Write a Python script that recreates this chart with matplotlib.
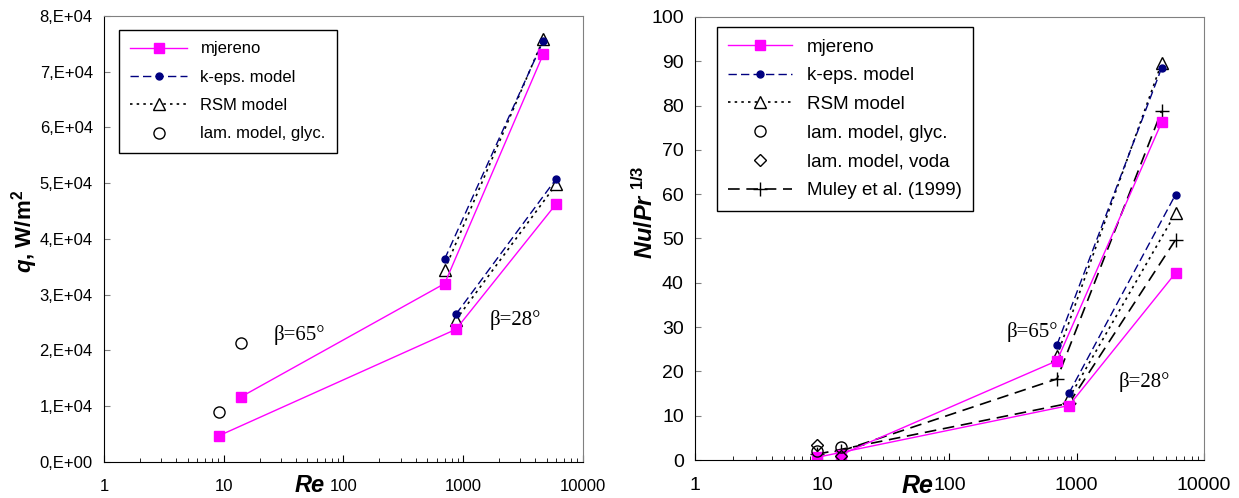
import matplotlib
matplotlib.use("Agg")
import matplotlib.pyplot as plt
from matplotlib.ticker import FixedLocator, FuncFormatter, LogLocator, NullFormatter

plt.rcParams["font.family"] = ["Liberation Sans", "DejaVu Sans"]
plt.rcParams["mathtext.fontset"] = "custom"
plt.rcParams["mathtext.rm"] = "Liberation Sans:bold"
plt.rcParams["mathtext.it"] = "Liberation Sans:bold:italic"
plt.rcParams["mathtext.bf"] = "Liberation Sans:bold"

# Reynolds numbers (beta = 65 deg / beta = 28 deg)
re_65 = [14, 700, 4650]
re_28 = [9.1, 870, 5980]
re_65_cfd = [700, 4650]
re_28_cfd = [870, 5980]
re_lam = [9.1, 14]

# heat flux q, W/m2
q_meas_65 = [1.17e4, 3.20e4, 7.31e4]
q_meas_28 = [0.47e4, 2.38e4, 4.63e4]
q_keps_65 = [3.64e4, 7.55e4]
q_keps_28 = [2.65e4, 5.08e4]
q_rsm_65 = [3.45e4, 7.58e4]
q_rsm_28 = [2.55e4, 4.98e4]
q_lam_glyc = [0.90e4, 2.13e4]

# Nu / Pr^(1/3)
nu_meas_65 = [1.2, 22.4, 76.2]
nu_meas_28 = [0.6, 12.3, 42.2]
nu_keps_65 = [26.0, 88.5]
nu_keps_28 = [15.1, 59.9]
nu_rsm_65 = [23.5, 89.6]
nu_rsm_28 = [14.0, 55.7]
nu_muley_65 = [2.0, 18.3, 78.8]
nu_muley_28 = [1.3, 12.8, 49.7]
nu_lam_glyc = [2.0, 3.0]
nu_lam_voda = [3.4, 1.0]

x_ticks = [1, 10, 100, 1000, 10000]

MAG = "#FF00FF"
NAVY = "#000080"


def sci_comma(v, pos):
    if v == 0:
        return "0,E+00"
    exp = 0
    m = v
    while abs(m) >= 10:
        m /= 10
        exp += 1
    return f"{m:.0f},E+{exp:02d}"


def style_axes(ax):
    ax.set_xscale("log")
    ax.set_xlim(1, 10000)
    ax.xaxis.set_major_locator(FixedLocator(x_ticks))
    ax.xaxis.set_major_formatter(FuncFormatter(lambda v, p: f"{v:.0f}"))
    ax.xaxis.set_minor_locator(LogLocator(base=10, subs=range(2, 10)))
    ax.xaxis.set_minor_formatter(NullFormatter())
    ax.tick_params(axis="x", which="major", direction="in", length=5, pad=12, labelsize=12)
    ax.tick_params(axis="x", which="minor", direction="in", length=3)
    ax.tick_params(axis="y", direction="in", length=4, color="#808080", pad=8, labelsize=12)
    for s in ("top", "right"):
        ax.spines[s].set_color("#808080")
    for s in ("left", "bottom"):
        ax.spines[s].set_color("black")


def line_kw(kind):
    if kind == "meas":
        return dict(color=MAG, lw=1.0, marker="s", ms=7, mfc=MAG, mec=MAG)
    if kind == "keps":
        return dict(color=NAVY, lw=1.0, ls=(0, (6, 3)), marker="o", ms=5, mfc=NAVY, mec=NAVY)
    if kind == "rsm":
        return dict(color="black", lw=1.2, ls=(0, (1.5, 2.5)), marker="^", ms=9,
                    mfc="white", mec="black", mew=1.0)
    if kind == "muley":
        return dict(color="black", lw=1.2, ls=(0, (7, 4)), marker="+", ms=10, mew=1.0)


fig = plt.figure(figsize=(12.39, 4.98), dpi=100)
ax1 = fig.add_axes([0.0839, 0.0723, 0.3866, 0.8956])
ax2 = fig.add_axes([0.5609, 0.0763, 0.4108, 0.8896])

# ---- left panel: q ----
ax1.plot(re_65_cfd, q_rsm_65, label="RSM model", **line_kw("rsm"))
ax1.plot(re_28_cfd, q_rsm_28, **line_kw("rsm"))
ax1.plot(re_65_cfd, q_keps_65, label="k-eps. model", **line_kw("keps"))
ax1.plot(re_28_cfd, q_keps_28, **line_kw("keps"))
ax1.plot(re_65, q_meas_65, label="mjereno", **line_kw("meas"))
ax1.plot(re_28, q_meas_28, **line_kw("meas"))
ax1.plot(re_lam, q_lam_glyc, ls="none", marker="o", ms=8, mfc="white", mec="black",
         label="lam. model, glyc.")

ax1.set_ylim(0, 8e4)
ax1.yaxis.set_major_locator(FixedLocator([i * 1e4 for i in range(9)]))
ax1.yaxis.set_major_formatter(FuncFormatter(sci_comma))
style_axes(ax1)
ax1.set_xlabel("Re", fontsize=17, fontweight="bold", fontstyle="italic", va="center")
ax1.xaxis.set_label_coords(0.43, -0.052)
ax1.set_ylabel("$\\mathit{q}$, W/m$^\\mathrm{2}$", fontsize=16, fontweight="bold", va="center")
ax1.yaxis.set_label_coords(-0.165, 0.518)

ax1.text(26, 2.28e4, "β=65°", family="Liberation Serif", fontsize=15, va="center")
ax1.text(1650, 2.55e4, "β=28°", family="Liberation Serif", fontsize=15, va="center")

h, l = ax1.get_legend_handles_labels()
order = ["mjereno", "k-eps. model", "RSM model", "lam. model, glyc."]
hl = dict(zip(l, h))
leg1 = ax1.legend([hl[k] for k in order], order, loc="upper left",
                  bbox_to_anchor=(0.031, 0.969), borderaxespad=0, fontsize=12,
                  fancybox=False, edgecolor="black", framealpha=1,
                  labelspacing=0.8, handlelength=3.4, borderpad=0.7)
leg1.get_frame().set_linewidth(1.0)

# ---- right panel: Nu/Pr^1/3 ----
ax2.plot(re_65, nu_muley_65, label="Muley et al. (1999)", **line_kw("muley"))
ax2.plot(re_28, nu_muley_28, **line_kw("muley"))
ax2.plot(re_65_cfd, nu_rsm_65, label="RSM model", **line_kw("rsm"))
ax2.plot(re_28_cfd, nu_rsm_28, **line_kw("rsm"))
ax2.plot(re_65_cfd, nu_keps_65, label="k-eps. model", **line_kw("keps"))
ax2.plot(re_28_cfd, nu_keps_28, **line_kw("keps"))
ax2.plot(re_65, nu_meas_65, label="mjereno", **line_kw("meas"))
ax2.plot(re_28, nu_meas_28, **line_kw("meas"))
ax2.plot(re_lam, nu_lam_glyc, ls="none", marker="o", ms=8, mfc="none", mec="black",
         label="lam. model, glyc.")
ax2.plot(re_lam, nu_lam_voda, ls="none", marker="D", ms=6.5, mfc="none", mec="black",
         label="lam. model, voda")

ax2.set_ylim(0, 100)
ax2.yaxis.set_major_locator(FixedLocator(range(0, 101, 10)))
style_axes(ax2)
ax2.tick_params(axis="both", labelsize=14)
ax2.set_xlabel("Re", fontsize=18, fontweight="bold", fontstyle="italic", va="center")
ax2.xaxis.set_label_coords(0.437, -0.058)
ax2.set_ylabel("$\\mathit{Nu/Pr}^{\\ \\mathit{1/3}}$", fontsize=17, va="center")
ax2.yaxis.set_label_coords(-0.098, 0.56)

ax2.text(280, 29, "β=65°", family="Liberation Serif", fontsize=15, va="center")
ax2.text(2150, 17.7, "β=28°", family="Liberation Serif", fontsize=15, va="center")

h, l = ax2.get_legend_handles_labels()
order = ["mjereno", "k-eps. model", "RSM model", "lam. model, glyc.",
         "lam. model, voda", "Muley et al. (1999)"]
hl = dict(zip(l, h))
leg2 = ax2.legend([hl[k] for k in order], order, loc="upper left",
                  bbox_to_anchor=(0.043, 0.977), borderaxespad=0, fontsize=13.5,
                  fancybox=False, edgecolor="black", framealpha=1,
                  labelspacing=0.62, handlelength=3.4, borderpad=0.6)
leg2.get_frame().set_linewidth(1.0)

fig.savefig("out.png", dpi=100)
